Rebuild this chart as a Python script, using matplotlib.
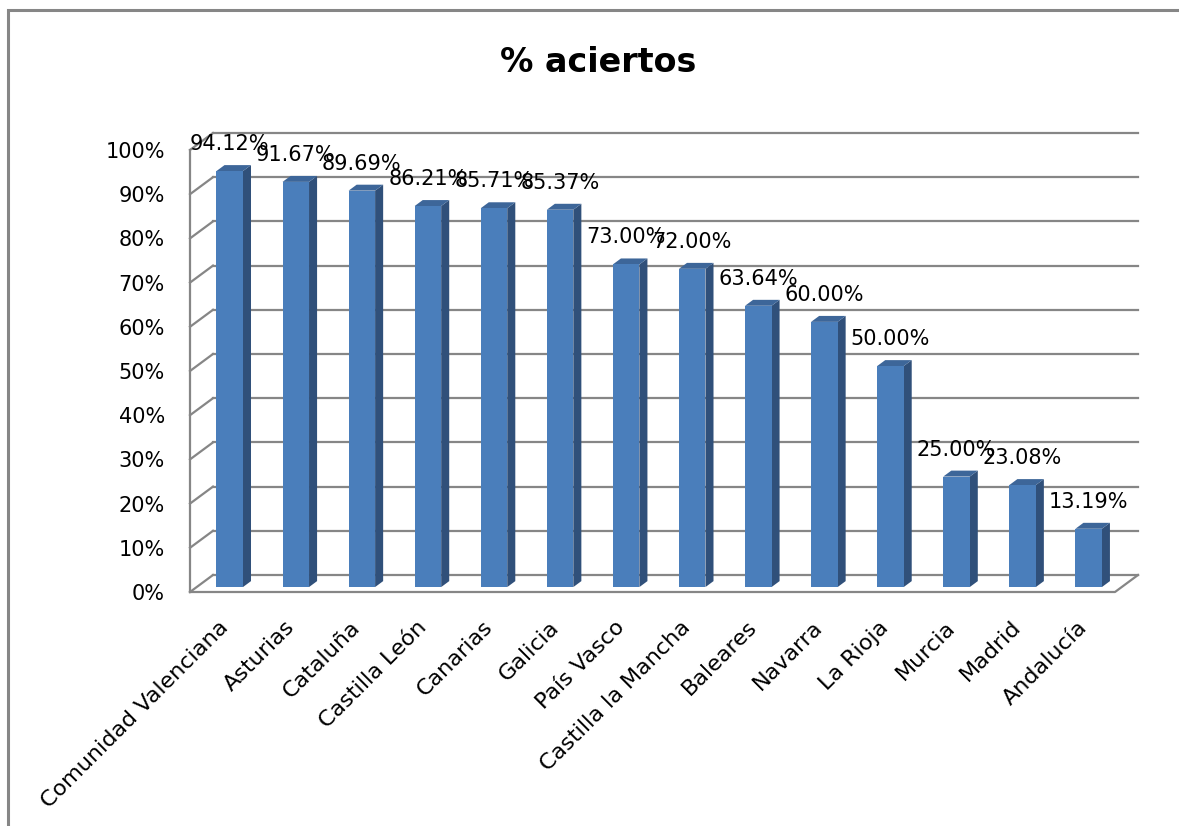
import matplotlib
matplotlib.use('Agg')
from matplotlib import pyplot as plt
from matplotlib.patches import Polygon, Rectangle
from matplotlib.transforms import ScaledTranslation

regions = ['Comunidad Valenciana', 'Asturias', 'Cataluña', 'Castilla León',
           'Canarias', 'Galicia', 'País Vasco', 'Castilla la Mancha',
           'Baleares', 'Navarra', 'La Rioja', 'Murcia', 'Madrid', 'Andalucía']
aciertos = [94.12, 91.67, 89.69, 86.21, 85.71, 85.37, 73.00, 72.00,
            63.64, 60.00, 50.00, 25.00, 23.08, 13.19]
y_ticks = list(range(0, 101, 10))

W, H, DPI = 1179, 826, 100
GRID = '#868686'
FRONT, SIDE, TOP = '#4a7ebb', '#30507a', '#3d6699'

fig = plt.figure(figsize=(W / DPI, H / DPI), dpi=DPI)

# front plane of the plot box, in pixels
left_px, right_px = 190, 1115
bottom_px, top_px = 592, 150
ax = fig.add_axes([left_px / W, 1 - bottom_px / H,
                   (right_px - left_px) / W, (bottom_px - top_px) / H])
n = len(regions)
ax.set_xlim(-0.5, n - 0.5)
ax.set_ylim(0, 100)

px_x = (right_px - left_px) / n      # pixels per category
px_y = (bottom_px - top_px) / 100    # pixels per percent
DEPTH_X, DEPTH_Y = 23 / px_x, 17 / px_y  # offset of the back wall in data units


def shift(x, y, d):
    """Move a point of the front plane back by depth d (0 front, 1 back)."""
    return x + d * DEPTH_X, y + d * DEPTH_Y


# walls: back wall gridlines, side wall diagonals, floor edges
x0, x1 = -0.5, n - 0.5
for v in y_ticks:
    bx0, by = shift(x0, v, 1)
    bx1, _ = shift(x1, v, 1)
    ax.plot([bx0, bx1], [by, by], color=GRID, lw=1.6, clip_on=False)
    ax.plot([x0, bx0], [v, by], color=GRID, lw=1.6, clip_on=False)
ax.plot([x0, x0], [0, 100], color=GRID, lw=1.6, clip_on=False)
fx, fy = shift(x1, 0, 1)
ax.plot([x0, x1, fx], [0, 0, fy], color=GRID, lw=1.6, clip_on=False)

# 3d columns
D0, D1 = 0.29, 0.64
bar_w = 26.5 / px_x
for i, v in enumerate(aciertos):
    lx, by = shift(i - bar_w / 2, 0, D0)
    rx = lx + bar_w
    ty = by + v
    ox, oy = (D1 - D0) * DEPTH_X, (D1 - D0) * DEPTH_Y
    front = [(lx, by), (rx, by), (rx, ty), (lx, ty)]
    side = [(rx, by), (rx + ox, by + oy), (rx + ox, ty + oy), (rx, ty)]
    top = [(lx, ty), (rx, ty), (rx + ox, ty + oy), (lx + ox, ty + oy)]
    for pts, col in ((side, SIDE), (top, TOP), (front, FRONT)):
        ax.add_patch(Polygon(pts, closed=True, facecolor=col, edgecolor='none',
                             clip_on=False, zorder=3))
    ax.text(i + D0 * DEPTH_X, ty + 27 / px_y, f'{v:.2f}%', ha='center',
            va='center', fontsize=15, clip_on=False, zorder=4)

ax.set_yticks(y_ticks, [f'{t}%' for t in y_ticks])
ax.tick_params(axis='y', length=0, pad=18, labelsize=15)
ax.set_xticks(range(n), regions, rotation=45, ha='right', rotation_mode='anchor')
ax.tick_params(axis='x', length=0, pad=18, labelsize=16)
for lab in ax.get_xticklabels():
    lab.set_transform(lab.get_transform() + ScaledTranslation(-0.05, 0, fig.dpi_scale_trans))
for s in ax.spines.values():
    s.set_visible(False)
ax.patch.set_visible(False)

fig.text(598 / W, 1 - 62 / H, '% aciertos', ha='center', va='center',
         fontsize=24, fontweight='bold')

# chart border, cut off at the right and bottom
fig.add_artist(Rectangle((8 / W, -1), 2, 2 - 10 / H, transform=fig.transFigure,
                         facecolor='none', edgecolor=GRID, lw=2.2))

fig.savefig('out.png', dpi=DPI)
